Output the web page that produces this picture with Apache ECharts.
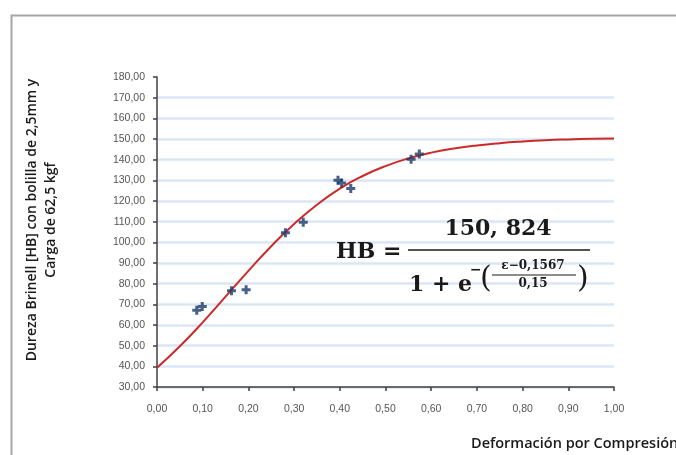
<!DOCTYPE html>
<html><head><meta charset="utf-8">
<script src="https://cdn.jsdelivr.net/npm/echarts@6/dist/echarts.min.js"></script>
<style>html,body{margin:0;padding:0;background:#fff}#c{width:676px;height:455px}</style>
</head><body><div id="c"></div>
<script>
// Measured points: deformation (x) and Brinell hardness (y)
var deformacion = [0.087, 0.099, 0.163, 0.195, 0.281, 0.320, 0.396, 0.404, 0.424, 0.556, 0.574];
var dureza      = [67.1, 69.0, 76.6, 77.1, 104.6, 109.7, 130.0, 128.7, 126.0, 140.2, 142.8];
// Fitted curve
var curvaX = [0, 0.05, 0.10, 0.15, 0.20, 0.25, 0.30, 0.35, 0.40, 0.45, 0.50, 0.55, 0.60, 0.65, 0.70, 0.75, 0.80, 0.85, 0.90, 0.95, 1.00];
var curvaY = [39.3, 49.7, 61.3, 73.7, 86.2, 98.1, 108.9, 118.2, 126.0, 132.1, 136.9, 140.6, 143.4, 145.4, 146.9, 148.0, 148.8, 149.4, 149.8, 150.1, 150.3];
var yTitle1 = 'Dureza Brinell [HB] con bolilla de 2,5mm y';
var yTitle2 = 'Carga de 62,5 kgf';
var xTitle = 'Deformación por Compresión';

var chart = echarts.init(document.getElementById('c'));
function fmt(v){ return v.toFixed(2).replace('.', ','); }
var pts = deformacion.map(function(x,i){ return [x, dureza[i]]; });
var curve = curvaX.map(function(x,i){ return [x, curvaY[i]]; });
var serif = '"DejaVu Serif", "Liberation Serif", serif';
chart.setOption({
  animation: false,
  grid: {left: 157, right: 62, top: 77, bottom: 68},
  xAxis: {
    type: 'value', min: 0, max: 1, interval: 0.1,
    axisLine: {lineStyle: {color: '#404040', width: 1.5}},
    axisTick: {show: true, length: 4, lineStyle: {color: '#404040', width: 1.5}},
    axisLabel: {formatter: fmt, color: '#555', fontSize: 10.5, fontFamily: 'Liberation Sans', margin: 17},
    splitLine: {show: false}
  },
  yAxis: {
    type: 'value', min: 30, max: 180, interval: 10,
    axisLine: {show: true, lineStyle: {color: '#404040', width: 1.5}},
    axisTick: {show: true, length: 4, lineStyle: {color: '#404040', width: 1.5}},
    axisLabel: {formatter: fmt, color: '#555', fontSize: 10.5, fontFamily: 'Liberation Sans', margin: 12},
    splitLine: {show: true, showMaxLine: false, lineStyle: {color: '#dbe6f4', width: 2.5}}
  },
  series: [
    {type: 'line', data: curve, smooth: true, showSymbol: false, symbol: 'none',
     lineStyle: {color: '#cc2a2a', width: 2}, z: 2},
    {type: 'scatter', data: pts, symbol: 'path://M3,0H6V3H9V6H6V9H3V6H0V3H3Z', symbolSize: 9,
     itemStyle: {color: '#1a3a68'}, z: 3}
  ],
  graphic: [
    {type: 'rect', left: 9, top: 13, shape: {width: 700, height: 500}, silent: true,
     style: {fill: 'none', stroke: '#a6a6a6', lineWidth: 2}, z: -10},
    {type: 'text', x: 32, y: 220, rotation: Math.PI/2,
     style: {text: yTitle1, font: '600 14px "Open Sans"', fill: '#1a1a1a', align: 'center', verticalAlign: 'middle'}},
    {type: 'text', x: 51, y: 220, rotation: Math.PI/2,
     style: {text: yTitle2, font: '600 14px "Open Sans"', fill: '#1a1a1a', align: 'center', verticalAlign: 'middle'}},
    {type: 'text', x: 471, y: 444,
     style: {text: xTitle, font: '600 14.5px "Open Sans"', fill: '#1a1a1a', align: 'left', verticalAlign: 'middle'}},
    // equation
    {type: 'text', x: 336, y: 252, z: 20,
     style: {text: 'HB =', font: 'bold 22px ' + serif, fill: '#1a1a1a', align: 'left', verticalAlign: 'middle'}},
    {type: 'text', x: 498, y: 229, z: 20,
     style: {text: '150, 824', font: 'bold 22px ' + serif, fill: '#1a1a1a', align: 'center', verticalAlign: 'middle'}},
    {type: 'line', z: 20, shape: {x1: 408, y1: 250, x2: 590, y2: 250}, style: {stroke: '#1a1a1a', lineWidth: 1.5}},
    {type: 'text', x: 409, y: 285, z: 20,
     style: {text: '1 + e', font: 'bold 22px ' + serif, fill: '#1a1a1a', align: 'left', verticalAlign: 'middle'}},
    {type: 'text', x: 470, y: 270, z: 20,
     style: {text: '−', font: 'bold 14px ' + serif, fill: '#1a1a1a', align: 'left', verticalAlign: 'middle'}},
    {type: 'text', x: 480, y: 279, z: 20,
     style: {text: '(', font: '30px ' + serif, fill: '#1a1a1a', align: 'left', verticalAlign: 'middle'}},
    {type: 'text', x: 577, y: 279, z: 20,
     style: {text: ')', font: '30px ' + serif, fill: '#1a1a1a', align: 'left', verticalAlign: 'middle'}},
    {type: 'text', x: 533, y: 266, z: 20,
     style: {text: 'ε−0,1567', font: 'bold 12px ' + serif, fill: '#1a1a1a', align: 'center', verticalAlign: 'middle'}},
    {type: 'line', z: 20, shape: {x1: 492, y1: 275, x2: 576, y2: 275}, style: {stroke: '#1a1a1a', lineWidth: 1}},
    {type: 'text', x: 533, y: 284, z: 20,
     style: {text: '0,15', font: 'bold 12px ' + serif, fill: '#1a1a1a', align: 'center', verticalAlign: 'middle'}}
  ]
});
</script></body></html>
